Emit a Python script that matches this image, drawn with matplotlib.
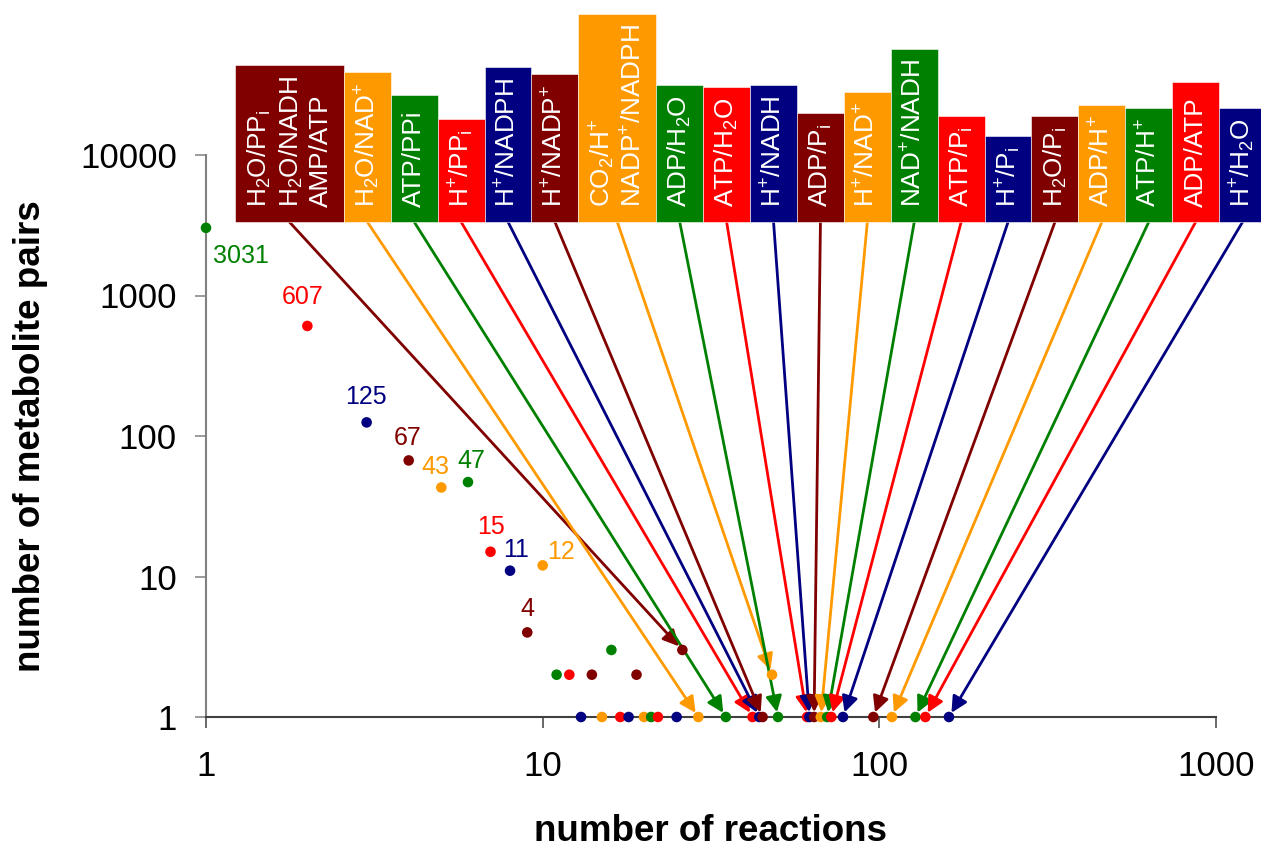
import matplotlib
matplotlib.use("Agg")
import matplotlib.pyplot as plt
from matplotlib.patches import Rectangle
from matplotlib.ticker import FixedLocator, NullLocator

# ---------------- data ----------------
reactions = [1, 2, 3, 4, 5, 6, 7, 8, 9, 10, 11, 12, 13, 14, 15, 16, 17, 18, 19, 20,
             21, 22, 25, 26, 29, 35, 42, 44, 45, 48, 50, 61, 62, 64, 67, 70, 72, 78,
             96, 109, 128, 137, 161]
pairs = [3031, 607, 125, 67, 43, 47, 15, 11, 4, 12, 2, 2, 1, 2, 1, 3, 1, 1, 2, 1,
         1, 1, 1, 3, 1, 1, 1, 1, 1, 2, 1, 1, 1, 1, 1, 1, 1, 1,
         1, 1, 1, 1, 1]
n_labelled = 10  # first points carry their value as label

box_labels = [
    "H$_2$O/PP$_i$\nH$_2$O/NADH\nAMP/ATP",
    "H$_2$O/NAD$^{+}$",
    "ATP/PPi",
    "H$^{+}$/PP$_i$",
    "H$^{+}$/NADPH",
    "H$^{+}$/NADP$^{+}$",
    "CO$_2$/H$^{+}$\nNADP$^{+}$/NADPH",
    "ADP/H$_2$O",
    "ATP/H$_2$O",
    "H$^{+}$/NADH",
    "ADP/P$_i$",
    "H$^{+}$/NAD$^{+}$",
    "NAD$^{+}$/NADH",
    "ATP/P$_i$",
    "H$^{+}$/P$_i$",
    "H$_2$O/P$_i$",
    "ADP/H$^{+}$",
    "ATP/H$^{+}$",
    "ADP/ATP",
    "H$^{+}$/H$_2$O",
]
box_targets = [26, 29, 35, 42, 44, 45, 48, 50, 61, 62, 64, 67, 70, 72, 78, 96,
               109, 128, 137, 161]

x_ticks = [1, 10, 100, 1000]
x_tick_labels = ["1", "10", "100", "1000"]
y_ticks = [1, 10, 100, 1000, 10000]
y_tick_labels = ["1", "10", "100", "1000", "10000"]

# ---------------- style ----------------
palette = ["#008000", "#FF0000", "#000080", "#800000", "#FF9900"]
label_offsets = [(5, -20), (-3.2, 20.5), (-0.7, 18), (-0.7, 16.2), (-4, 14.4),
                 (2.5, 15.1), (0, 17.6), (4, 14.8), (0, 16.6), (13.3, 9.4)]

plt.rcParams['font.family'] = ['Liberation Sans', 'DejaVu Sans']
plt.rcParams['mathtext.fontset'] = 'custom'
plt.rcParams['mathtext.rm'] = 'Liberation Sans'
plt.rcParams['mathtext.it'] = 'Liberation Sans:italic'
plt.rcParams['mathtext.bf'] = 'Liberation Sans:bold'
plt.rcParams['mathtext.default'] = 'regular'

W, H = 1261, 850
fig = plt.figure(figsize=(W / 100, H / 100), dpi=100)


def fx(px):
    return px / W


def fy(py):
    return 1 - py / H


ax = fig.add_axes([fx(206), fy(717), fx(1216) - fx(206), fy(155) - fy(717)])
ax.set_xscale('log')
ax.set_yscale('log')
ax.set_xlim(1, 1000)
ax.set_ylim(1, 10000)

for s in ['top', 'right']:
    ax.spines[s].set_visible(False)
ax.spines['left'].set_color('#808080')
ax.spines['bottom'].set_color('#404040')
ax.spines['left'].set_linewidth(1.5)
ax.spines['bottom'].set_linewidth(1.5)

ax.xaxis.set_major_locator(FixedLocator(x_ticks))
ax.xaxis.set_minor_locator(NullLocator())
ax.set_xticklabels(x_tick_labels)
ax.yaxis.set_major_locator(FixedLocator(y_ticks))
ax.yaxis.set_minor_locator(NullLocator())
ax.set_yticklabels(y_tick_labels)
ax.tick_params(axis='x', direction='out', length=8, width=1.1, color='#404040',
               labelsize=25, pad=16)
ax.tick_params(axis='y', direction='out', length=8, width=1.1, color='#808080',
               labelsize=25, pad=13)

ax.set_xlabel('number of reactions', fontsize=26.5, fontweight='bold')
ax.set_ylabel('number of metabolite pairs', fontsize=26.5, fontweight='bold')
ax.xaxis.set_label_coords(0.5, -0.1726)
ax.yaxis.set_label_coords(-0.156, 0.5)

colors = [palette[i % 5] for i in range(len(reactions))]
ax.scatter(reactions, pairs, c=colors, s=58, linewidths=0, zorder=5, clip_on=False)

for i in range(n_labelled):
    dx, dy = label_offsets[i]
    ax.annotate(str(pairs[i]), xy=(reactions[i], pairs[i]), xytext=(dx, dy),
                textcoords='offset points', ha='left' if i == 0 else 'center',
                va='center', fontsize=18, color=colors[i], zorder=6)

# ---------------- label boxes with arrows ----------------
renderer = fig.canvas.get_renderer()
box_bottom = 222
pad = 15
left = 235
for lab, tgt in zip(box_labels, box_targets):
    idx = reactions.index(tgt)
    col = colors[idx]
    nlines = lab.count('\n') + 1
    w = 15.9 + 31 * nlines
    cx = left + w / 2
    t = fig.text(fx(cx), fy(box_bottom - pad), lab, rotation=90, ha='center',
                 va='bottom', multialignment='left', color='white', fontsize=18.8,
                 zorder=3)
    ext = t.get_window_extent(renderer)
    top_pad = 10.5 if '$' in lab else pad
    top_frac = (ext.y1 + top_pad) / H
    fig.add_artist(Rectangle((fx(left), fy(box_bottom)), fx(w), top_frac - fy(box_bottom),
                             transform=fig.transFigure, facecolor=col,
                             edgecolor='white', linewidth=0.4, zorder=2))
    ax.annotate('', xy=(tgt, pairs[idx]), xycoords='data',
                xytext=(fx(cx), fy(box_bottom)), textcoords='figure fraction',
                arrowprops=dict(arrowstyle='-|>', color=col, lw=2.0, shrinkA=0,
                                shrinkB=3.5, mutation_scale=24),
                annotation_clip=False, zorder=4)
    left += w

fig.savefig('out.png', dpi=100)
